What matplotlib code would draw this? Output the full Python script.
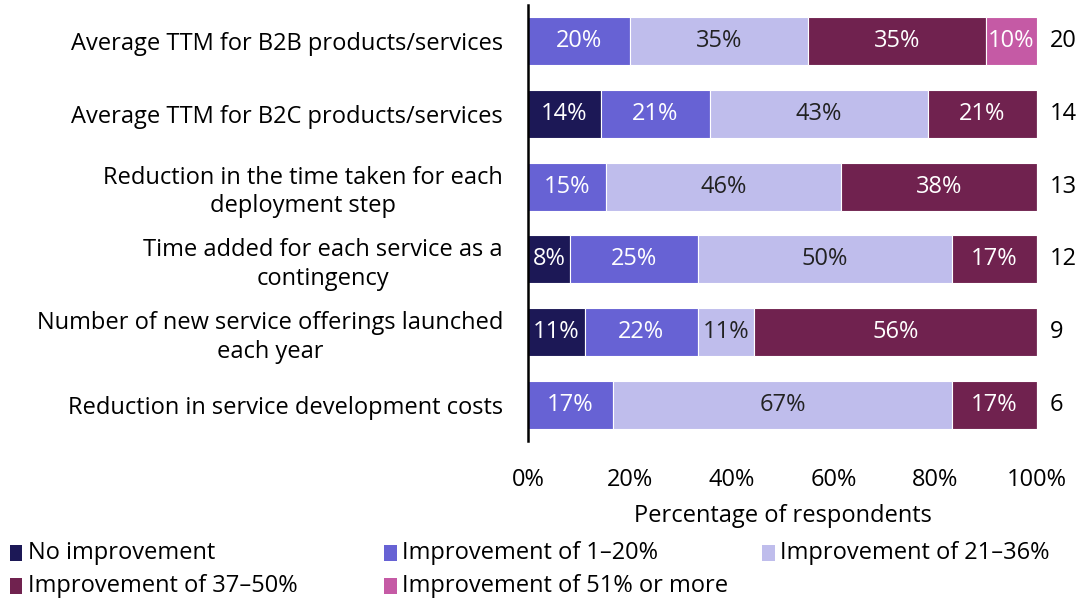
import matplotlib
matplotlib.use("Agg")
import matplotlib.pyplot as plt
import numpy as np
from matplotlib.patches import Rectangle

plt.rcParams['font.family'] = ['Open Sans', 'DejaVu Sans']

categories = [
    "Average TTM for B2B products/services",
    "Average TTM for B2C products/services",
    "Reduction in the time taken for each\ndeployment step",
    "Time added for each service as a\ncontingency",
    "Number of new service offerings launched\neach year",
    "Reduction in service development costs",
]
series_names = [
    "No improvement",
    "Improvement of 1\u201320%",
    "Improvement of 21\u201336%",
    "Improvement of 37\u201350%",
    "Improvement of 51% or more",
]
colors = ["#1c1856", "#6762d4", "#bfbdec", "#70224f", "#c55aa5"]
text_colors = ["white", "white", "#222222", "white", "white"]

# respondent counts per category (columns follow series_names)
counts = np.array([
    [0, 4, 7, 7, 2],
    [2, 3, 6, 3, 0],
    [0, 2, 6, 5, 0],
    [1, 3, 6, 2, 0],
    [1, 2, 1, 5, 0],
    [0, 1, 4, 1, 0],
])
n_resp = counts.sum(axis=1)
shares = counts / n_resp[:, None] * 100

FS = 17

fig = plt.figure(figsize=(10.89, 6.01), dpi=100)
ax = fig.add_axes([0.4848, 0.2654, 0.4674, 0.7271])

y = np.arange(len(categories))
left = np.zeros(len(categories))
for j in range(len(series_names)):
    vals = shares[:, j]
    ax.barh(y, vals, left=left, height=0.66, color=colors[j],
            edgecolor="white", linewidth=0.8)
    for i in range(len(categories)):
        if vals[i] > 0:
            ax.text(left[i] + vals[i] / 2, y[i], f"{vals[i]:.0f}%",
                    ha="center", va="center", fontsize=FS,
                    color=text_colors[j])
    left += vals

for i in range(len(categories)):
    ax.text(1.025, y[i], str(n_resp[i]), transform=ax.get_yaxis_transform(),
            ha="left", va="center", fontsize=FS, color="black")

ax.set_ylim(len(categories) - 0.5, -0.5)
ax.set_xlim(0, 100)
ax.set_yticks(y)
ax.set_yticklabels(categories, fontsize=FS)
for lbl in ax.get_yticklabels():
    lbl.set_multialignment("center")
    lbl.set_linespacing(1.27)
ax.set_xticks(np.arange(0, 101, 20))
ax.set_xticklabels([f"{v}%" for v in range(0, 101, 20)], fontsize=FS)
ax.tick_params(axis="both", length=0)
ax.tick_params(axis="x", pad=19)
ax.tick_params(axis="y", pad=18)
ax.set_xlabel("Percentage of respondents", fontsize=FS, labelpad=9)
for s in ["top", "right", "bottom"]:
    ax.spines[s].set_visible(False)
ax.spines["left"].set_linewidth(1.8)

# legend laid out in rows, three columns
leg_x = [0.009, 0.353, 0.700]
leg_y = [0.080, 0.025]
for k, name in enumerate(series_names):
    cx = leg_x[k % 3]
    cy = leg_y[k // 3]
    fig.add_artist(Rectangle((cx, cy - 0.013), 0.0115, 0.026,
                             transform=fig.transFigure, facecolor=colors[k],
                             edgecolor="none"))
    fig.text(cx + 0.0165, cy, name, ha="left", va="center", fontsize=FS)

fig.savefig("out.png", dpi=100)
